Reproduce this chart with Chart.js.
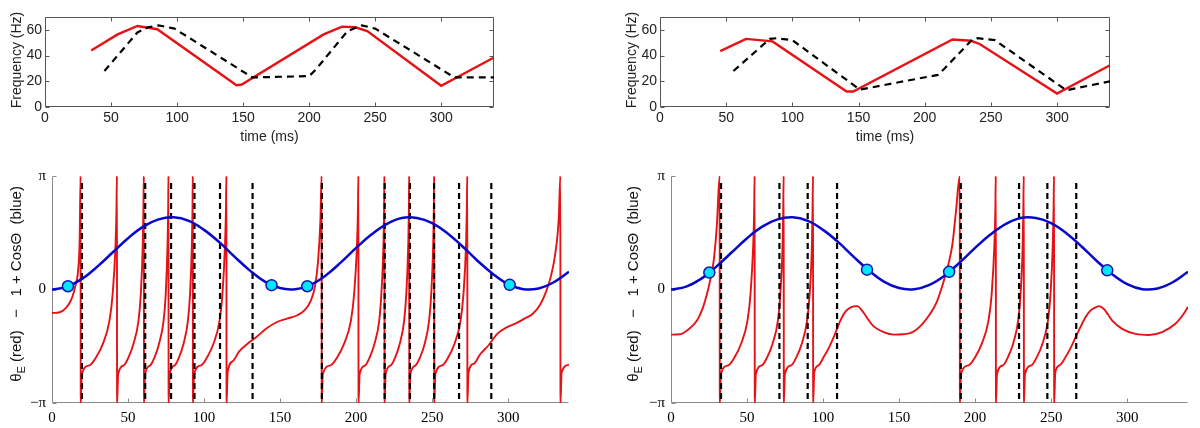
<!DOCTYPE html>
<html>
<head>
<meta charset="utf-8">
<script src="https://cdn.jsdelivr.net/npm/chart.js@4.4.1/dist/chart.umd.min.js"></script>
<style>
  html, body { margin: 0; padding: 0; background: #fff; }
  body { width: 1200px; height: 428px; position: relative; overflow: hidden; }
  canvas { position: absolute; }
</style>
</head>
<body>
<canvas id="freqLeft" width="600" height="150" style="left:0;top:0"></canvas>
<canvas id="freqRight" width="600" height="150" style="left:600px;top:0"></canvas>
<canvas id="phaseLeft" width="600" height="268" style="left:0;top:160px"></canvas>
<canvas id="phaseRight" width="600" height="268" style="left:600px;top:160px"></canvas>
<script>
// --- top panels: frequency (Hz) against time (ms) ---
const freqRedTimeL = [35, 55, 70, 85, 145, 149, 211, 225, 235, 244, 300, 340];
const freqRedL     = [44, 56.5, 63, 60.5, 17, 17.5, 56.5, 62.5, 62, 59, 16.5, 38.5];
const freqBlackTimeL = [45, 70, 78, 86, 98, 157, 200, 205, 229, 240, 250, 310, 340];
const freqBlackL     = [28, 58, 62, 63.5, 61, 23, 24, 29, 59, 63.5, 61, 23, 23];

const freqRedTimeR = [45.5, 65, 85, 141, 146, 221, 235, 241.5, 300, 340];
const freqRedR     = [43.5, 53, 51, 12, 12, 52.5, 51.5, 49, 10.5, 32.5];
const freqBlackTimeR = [55.5, 83, 88, 100, 151, 210, 215, 236, 240, 253, 307, 340];
const freqBlackR     = [28, 53, 53.5, 52, 13.5, 25, 30, 52.5, 53.5, 52, 13, 20];

const timeTickValues = [0, 50, 100, 150, 200, 250, 300];
const freqTickValues = [0, 20, 40, 60];

// --- bottom panels: phase traces ---
const blueTime  = [0, 10, 20, 30, 40, 50, 60, 70, 80, 90, 100, 110, 120, 130, 140, 150, 160, 170,
                   180, 190, 200, 210, 220, 230, 240, 250, 260, 270, 280, 290, 300, 310, 320, 330, 340];
const blueCurve = [0, 0.08, 0.3, 0.64, 1.03, 1.42, 1.74, 1.94, 2.0, 1.9, 1.65, 1.31, 0.91, 0.53, 0.22, 0.04, 0.01, 0.13,
                   0.39, 0.75, 1.15, 1.52, 1.81, 1.98, 1.98, 1.84, 1.56, 1.19, 0.79, 0.43, 0.15, 0.01, 0.03, 0.2, 0.49];

// theta_E, [time, phase]
const redPhaseL = [
  [0,-0.65],[5,-0.63],[9.4,-0.5],[12,-0.34],[13.8,-0.15],[15.5,0.12],[17.1,0.5],[18.2,1.4],[18.8,3.14],[18.9,-3.14],
  [19.6,-2.34],[24.7,-2.1],[29.1,-1.87],[33.5,-1.5],[37.8,-0.86],[39.9,-0.12],[41.8,1.26],[42.4,2.2],[42.7,3.14],[42.8,-3.14],
  [43.5,-2.34],[47.2,-2.1],[50.4,-1.87],[53.6,-1.5],[56.9,-0.86],[58.4,-0.12],[59.7,1.26],[60.1,2.2],[60.4,3.14],[60.5,-3.14],
  [61.2,-2.34],[64.6,-2.1],[67.5,-1.87],[70.4,-1.5],[73.4,-0.86],[74.8,-0.12],[76.0,1.26],[76.4,2.2],[76.6,3.14],[76.7,-3.14],
  [77.4,-2.34],[80.7,-2.1],[83.6,-1.87],[86.5,-1.5],[89.4,-0.86],[90.8,-0.12],[92.0,1.26],[92.4,2.2],[92.6,3.14],[92.7,-3.14],
  [93.4,-2.34],[98.1,-2.1],[102.1,-1.87],[106.2,-1.5],[110.2,-0.86],[112.1,-0.12],[113.8,1.26],[114.4,2.2],[114.7,3.14],[114.8,-3.14],
  [115.5,-2.3],[119,-1.98],[123,-1.72],[128,-1.52],[134,-1.33],[141,-1.08],[148,-0.9],[155,-0.8],[161,-0.72],[166,-0.58],
  [170,-0.33],[173,0.1],[175,0.8],[176.5,1.9],[177.3,3.14],[177.4,-3.14],
  [178.1,-2.34],[183.2,-2.1],[187.7,-1.87],[192.1,-1.5],[196.6,-0.86],[198.7,-0.12],[200.6,1.26],[201.2,2.2],[201.5,3.14],[201.6,-3.14],
  [202.3,-2.34],[205.9,-2.1],[209.0,-1.87],[212.1,-1.5],[215.2,-0.86],[216.6,-0.12],[218.0,1.26],[218.4,2.2],[218.6,3.14],[218.7,-3.14],
  [219.4,-2.34],[222.8,-2.1],[225.8,-1.87],[228.7,-1.5],[231.6,-0.86],[233.0,-0.12],[234.3,1.26],[234.7,2.2],[234.9,3.14],[235.0,-3.14],
  [235.7,-2.34],[239.1,-2.1],[242.1,-1.87],[245.1,-1.5],[248.0,-0.86],[249.4,-0.12],[250.7,1.26],[251.1,2.2],[251.3,3.14],[251.4,-3.14],
  [252.1,-2.34],[256.7,-2.1],[260.7,-1.87],[264.7,-1.5],[268.7,-0.86],[270.6,-0.12],[272.3,1.26],[272.8,2.2],[273.1,3.14],[273.2,-3.14],
  [273.9,-2.3],[277.5,-2.05],[281.5,-1.8],[287,-1.55],[293,-1.22],[299,-1.05],[305,-0.94],[311,-0.8],[316,-0.68],[321,-0.42],
  [325,-0.05],[328,0.35],[331,1.0],[333.3,2.0],[334.3,3.14],[334.4,-3.14],
  [335.1,-2.3],[340,-2.08]
];
const redPhaseR = [
  [0,-1.25],[6,-1.24],[11,-1.12],[17.1,-0.86],[21,-0.5],[23.7,-0.12],[26,0.3],[28.1,0.8],[30.2,1.8],[32,3.14],[32.1,-3.14],
  [32.8,-2.34],[37.7,-2.1],[41.9,-1.87],[46.1,-1.5],[50.3,-0.86],[52.3,-0.12],[54.1,1.26],[54.7,2.2],[55,3.14],[55.1,-3.14],
  [55.8,-2.34],[59.8,-2.1],[63.3,-1.87],[66.8,-1.5],[70.3,-0.86],[71.9,-0.12],[73.4,1.26],[73.8,2.2],[74.1,3.14],[74.2,-3.14],
  [74.9,-2.34],[79.0,-2.1],[82.5,-1.87],[86.0,-1.5],[89.5,-0.86],[91.2,-0.12],[92.7,1.26],[93.1,2.2],[93.4,3.14],[93.5,-3.14],
  [94.2,-2.3],[97,-2.1],[100.4,-1.87],[104,-1.6],[107,-1.32],[111.4,-0.86],[115,-0.6],[118.5,-0.49],[122.4,-0.46],[126.8,-0.65],
  [130,-0.85],[133.3,-1.02],[139.9,-1.18],[146.5,-1.25],[152.3,-1.24],[158.9,-1.18],[165.4,-0.95],[170,-0.7],[174.2,-0.4],
  [177.5,-0.02],[180.7,0.43],[183,0.8],[185.1,1.26],[187.5,2.2],[189.9,3.14],[190,-3.14],
  [190.7,-2.34],[195.7,-2.1],[200.1,-1.87],[204.4,-1.5],[208.8,-0.86],[210.9,-0.12],[212.7,1.26],[213.3,2.2],[213.6,3.14],[213.7,-3.14],
  [214.4,-2.34],[218.3,-2.1],[221.6,-1.87],[225.0,-1.5],[228.3,-0.86],[229.9,-0.12],[231.3,1.26],[231.7,2.2],[232,3.14],[232.1,-3.14],
  [232.8,-2.34],[237.0,-2.1],[240.6,-1.87],[244.3,-1.5],[247.9,-0.86],[249.6,-0.12],[251.1,1.26],[251.6,2.2],[251.9,3.14],[252,-3.14],
  [252.7,-2.3],[255.5,-2.1],[259.5,-1.87],[263,-1.6],[266.1,-1.32],[269.5,-1.02],[272.6,-0.77],[275.5,-0.6],[278.1,-0.52],
  [281.4,-0.46],[284.7,-0.54],[287.5,-0.7],[290.2,-0.86],[296.7,-1.09],[305.5,-1.23],[314.2,-1.26],[323,-1.18],[331.7,-0.95],
  [337.2,-0.67],[340,-0.48]
];

// dashed vertical marks (ms) and their top value
const dashTimesL = [19.7, 61.3, 78.3, 93.7, 110.5, 131.9, 177.5, 218.8, 235.4, 251.3, 267.7, 288.9];
const dashTimesR = [32.9, 71.3, 89.9, 109.2, 190.6, 228.9, 247.5, 266.5];
const dashTop = 2.95;

// cyan dots on the blue curve
const dotTimeL = [10.5, 144.4, 167.9, 301];
const dotValL  = [0.09, 0.12, 0.09, 0.13];
const dotTimeR = [25.2, 128.9, 182.9, 286.9];
const dotValR  = [0.47, 0.55, 0.49, 0.53];

const phaseTickValues = [-Math.PI, 0, Math.PI];
const phaseTickLabels = ['\u2212\u03c0', '0', '\u03c0'];

const RED = 'rgb(230,18,22)';
const BLUE = 'rgb(8,8,205)';
const CYAN = 'rgb(0,232,255)';
const SANS = '"Liberation Sans", Arial, sans-serif';
const SERIF = '"Liberation Serif", "Times New Roman", serif';

const toXY = (xs, ys) => xs.map((x, i) => ({x: x, y: ys[i]}));
const pairs = arr => arr.map(p => ({x: p[0], y: p[1]}));
const dashedLines = times => times.flatMap(t => [{x: t, y: dashTop}, {x: t, y: -Math.PI}, {x: t, y: null}]);

// axes box, inward tick marks and axis titles
const framePlugin = {
    id: 'frame',
    beforeDatasetsDraw(chart, args, o) {
        const {ctx, chartArea: a, scales} = chart;
        const L = Math.round(a.left) + 0.5, R = Math.round(a.right) - 0.5;
        const T = Math.round(a.top) + 0.5, B = Math.round(a.bottom) - 0.5;
        ctx.save();
        ctx.strokeStyle = o.color;
        ctx.lineWidth = 1;
        ctx.beginPath();
        if (o.box) {
            ctx.rect(L, T, R - L, B - T);
        } else {
            ctx.moveTo(L, T); ctx.lineTo(L, B); ctx.lineTo(R, B);
        }
        scales.x.ticks.forEach(t => {
            const px = Math.round(scales.x.getPixelForValue(t.value)) + 0.5;
            ctx.moveTo(px, B); ctx.lineTo(px, B - o.tick);
            if (o.box) { ctx.moveTo(px, T); ctx.lineTo(px, T + o.tick); }
        });
        scales.y.ticks.forEach(t => {
            const py = Math.round(scales.y.getPixelForValue(t.value)) + 0.5;
            ctx.moveTo(L, py); ctx.lineTo(L + o.tick, py);
            if (o.box) { ctx.moveTo(R, py); ctx.lineTo(R - o.tick, py); }
        });
        ctx.stroke();
        ctx.restore();
    },
    afterDraw(chart, args, o) {
        const {ctx, chartArea: a} = chart;
        ctx.save();
        ctx.fillStyle = o.textColor;
        ctx.textBaseline = 'middle';
        if (o.xTitle) {
            ctx.font = o.titleSize + 'px ' + SANS;
            ctx.textAlign = 'center';
            ctx.fillText(o.xTitle, (a.left + a.right) / 2, o.xTitleY);
        }
        // rotated y title built from runs (for the subscript)
        ctx.translate(o.yTitleX, o.yTitleY);
        ctx.rotate(-Math.PI / 2);
        ctx.textAlign = 'left';
        let total = 0;
        o.yTitle.forEach(r => { ctx.font = r.size + 'px ' + SANS; total += ctx.measureText(r.text).width; });
        let x = -total / 2;
        o.yTitle.forEach(r => {
            ctx.font = r.size + 'px ' + SANS;
            ctx.fillText(r.text, x, r.dy || 0);
            x += ctx.measureText(r.text).width;
        });
        ctx.restore();
    }
};

const baseOptions = (axisWidth, padRight, padTop, xHeight) => ({
    responsive: false,
    devicePixelRatio: 1,
    animation: false,
    events: [],
    layout: { padding: { left: 0, right: padRight, top: padTop, bottom: 0 } },
    plugins: { legend: { display: false }, tooltip: { enabled: false } },
    scales: {
        x: {
            type: 'linear', min: 0, max: 340,
            grid: { display: false, drawTicks: false },
            border: { display: false },
            ticks: { maxRotation: 0, autoSkip: false },
            afterBuildTicks: s => { s.ticks = timeTickValues.map(v => ({ value: v })); },
            afterFit: s => { s.height = xHeight; }
        },
        y: {
            type: 'linear',
            grid: { display: false, drawTicks: false },
            border: { display: false },
            ticks: { autoSkip: false },
            afterFit: s => { s.width = axisWidth; }
        }
    }
});

function freqChart(id, redT, redF, blackT, blackF, axisWidth, padRight, yTitleX) {
    const options = baseOptions(axisWidth, padRight, 17, 43);
    Object.assign(options.scales.x.ticks, { padding: 3, color: '#222', font: { family: SANS, size: 14 } });
    Object.assign(options.scales.y, { min: 0, max: 70 });
    Object.assign(options.scales.y.ticks, { padding: 3, color: '#222', font: { family: SANS, size: 14 } });
    options.scales.y.afterBuildTicks = s => { s.ticks = freqTickValues.map(v => ({ value: v })); };
    options.plugins.frame = {
        box: true, color: '#555', tick: 4, textColor: '#222', titleSize: 14,
        xTitle: 'time (ms)', xTitleY: 137,
        yTitle: [{ text: 'Frequency (Hz)', size: 14 }], yTitleX: yTitleX, yTitleY: 60
    };
    return new Chart(document.getElementById(id), {
        type: 'line',
        data: {
            datasets: [
                { data: toXY(blackT, blackF), borderColor: '#000', borderWidth: 2.2, borderDash: [7, 5], pointRadius: 0 },
                { data: toXY(redT, redF), borderColor: RED, borderWidth: 2.4, pointRadius: 0 }
            ]
        },
        options: options,
        plugins: [framePlugin]
    });
}

function phaseChart(id, red, dashes, dotT, dotV, axisWidth, padRight, yTitleX) {
    const options = baseOptions(axisWidth, padRight, 16, 25);
    Object.assign(options.scales.x.ticks, { padding: 6, color: '#000', font: { family: SERIF, size: 15 } });
    Object.assign(options.scales.y, { min: -Math.PI, max: Math.PI });
    Object.assign(options.scales.y.ticks, {
        padding: 6, color: '#000', font: { family: SERIF, size: 15 },
        callback: (v, i) => phaseTickLabels[i]
    });
    options.scales.y.afterBuildTicks = s => { s.ticks = phaseTickValues.map(v => ({ value: v })); };
    options.plugins.frame = {
        box: false, color: '#8a8a8a', tick: 4, textColor: '#111', titleSize: 15,
        yTitle: [
            { text: '\u03b8', size: 15 },
            { text: 'E', size: 11, dy: 5 },
            { text: ' (red)   \u2212   1 + Cos\u0398  (blue)', size: 15 }
        ],
        yTitleX: yTitleX, yTitleY: 124
    };
    return new Chart(document.getElementById(id), {
        type: 'line',
        data: {
            datasets: [
                { data: toXY(dotT, dotV), showLine: false, pointRadius: 5.5, pointBackgroundColor: CYAN,
                  pointBorderColor: '#1414b4', pointBorderWidth: 1.5 },
                { data: toXY(blueTime, blueCurve), borderColor: BLUE, borderWidth: 2.5, pointRadius: 0, tension: 0.4 },
                { data: dashedLines(dashes), borderColor: '#000', borderWidth: 2.2, borderDash: [6, 4], pointRadius: 0 },
                { data: pairs(red), borderColor: RED, borderWidth: 1.9, pointRadius: 0, cubicInterpolationMode: 'monotone' }
            ]
        },
        options: options,
        plugins: [framePlugin]
    });
}

freqChart('freqLeft', freqRedTimeL, freqRedL, freqBlackTimeL, freqBlackL, 45, 106, 17);
freqChart('freqRight', freqRedTimeR, freqRedR, freqBlackTimeR, freqBlackR, 60, 90, 32);
phaseChart('phaseLeft', redPhaseL, dashTimesL, dotTimeL, dotValL, 52, 31, 17);
phaseChart('phaseRight', redPhaseR, dashTimesR, dotTimeR, dotValR, 71, 12, 34);
</script>
</body>
</html>
